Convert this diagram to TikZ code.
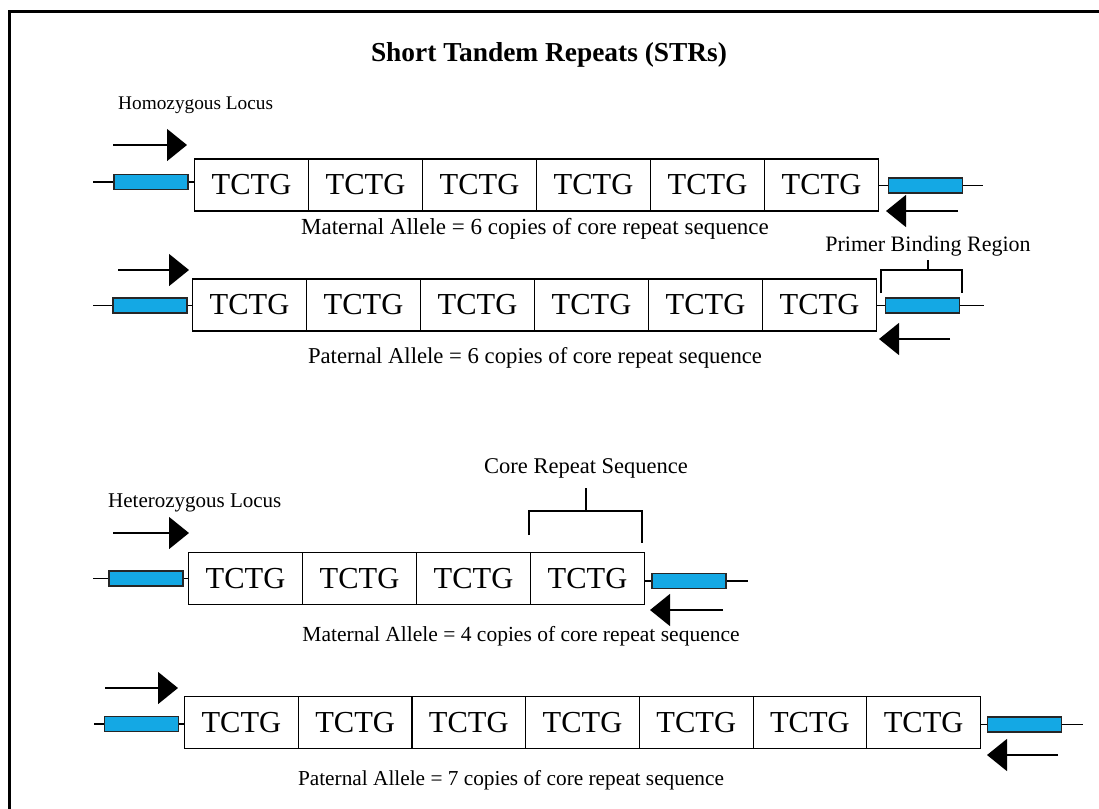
\documentclass[tikz,border=0pt]{standalone}
\usepackage{fontspec}
\setmainfont{Liberation Serif}
\usetikzlibrary{arrows.meta}
\definecolor{dnablue}{HTML}{14A8E4}
\tikzset{
  rep/.style={draw, line width=1.1pt, minimum height=52pt, inner sep=0pt, anchor=west, font=\fontsize{30.5}{30.5}\selectfont},
  flank/.style={draw=black!85, line width=1.1pt, fill=dnablue, minimum width=74pt, minimum height=15pt, inner sep=0pt},
  strand/.style={line width=1.1pt},
  primer/.style={line width=1.4pt, -{Triangle[length=20pt,width=32pt]}},
  lbl/.style={font=\fontsize{21}{21}\selectfont, inner sep=0pt},
  brk/.style={line width=1.1pt}
}
\begin{document}
\begin{tikzpicture}[x=1pt,y=-1pt]
\useasboundingbox (0,0) rectangle (1099,808);
\draw[line width=3pt] (1120,12) -- (9,12) -- (9,830);
\node[font=\fontsize{27.4}{27.4}\selectfont\bfseries] (title) at (549,55) {Short Tandem Repeats (STRs)};

% ---------- Row 1 ----------
\node[lbl, anchor=west, font=\fontsize{19.3}{19.3}\selectfont] (homo) at (118,105) {Homozygous Locus};
\foreach \i in {0,...,5} {\node[rep, minimum width=114pt] (r1b\i) at (194+114*\i,185) {TCTG};}
\node[flank] (r1L) at (151,182) {};
\node[flank] (r1R) at (925.5,185.5) {};
\coordinate (r1l0) at (93,182); \coordinate (r1r0) at (983,185.5);
\draw[strand] (r1l0) -- (r1L.west); \draw[strand] (r1L.east) -- (r1L.east -| r1b0.west);
\draw[strand] (r1R.west -| r1b5.east) -- (r1R.west); \draw[strand] (r1R.east) -- (r1r0);
\coordinate (r1fs) at (113,145); \coordinate (r1fe) at (187,145);
\coordinate (r1rs) at (958,211); \coordinate (r1re) at (886,211);
\draw[primer] (r1fs) -- (r1fe); \draw[primer] (r1rs) -- (r1re);
\node[lbl, font=\fontsize{23}{23}\selectfont] (mat1) at (535,229) {Maternal Allele = 6 copies of core repeat sequence};

% ---------- Row 2 ----------
\foreach \i in {0,...,5} {\node[rep, minimum width=114pt] (r2b\i) at (192+114*\i,305) {TCTG};}
\node[flank] (r2L) at (150,305.5) {};
\node[flank] (r2R) at (922.5,305.5) {};
\coordinate (r2l0) at (93,305.5); \coordinate (r2r0) at (984,305.5);
\draw[strand] (r2l0) -- (r2L.west); \draw[strand] (r2L.east) -- (r2L.east -| r2b0.west);
\draw[strand] (r2R.west -| r2b5.east) -- (r2R.west); \draw[strand] (r2R.east) -- (r2r0);
\coordinate (r2fs) at (118,270); \coordinate (r2fe) at (189,270);
\coordinate (r2rs) at (950,339); \coordinate (r2re) at (879,339);
\draw[primer] (r2fs) -- (r2fe); \draw[primer] (r2rs) -- (r2re);
\node[lbl, font=\fontsize{22}{22}\selectfont] (pbr) at (928,246) {Primer Binding Region};
\coordinate (pb1) at (881,293); \coordinate (pb2) at (962,293);
\draw[brk] (pb1) |- (pbr.south |- 0,270) -| (pb2);
\draw[brk] (pbr.south) ++(0,4) -- (pbr.south |- 0,270);
\node[lbl, font=\fontsize{22.7}{22.7}\selectfont] (pat1) at (535,358) {Paternal Allele = 6 copies of core repeat sequence};

% ---------- Row 3 ----------
\node[lbl, anchor=west] (hetero) at (108,503) {Heterozygous Locus};
\foreach \i in {0,...,3} {\node[rep, minimum width=114pt] (r3b\i) at (188+114*\i,578.5) {TCTG};}
\node[flank] (r3L) at (146,578.5) {};
\node[flank] (r3R) at (689,581) {};
\coordinate (r3l0) at (93,578.5); \coordinate (r3r0) at (748,581);
\draw[strand] (r3l0) -- (r3L.west); \draw[strand] (r3L.east) -- (r3L.east -| r3b0.west);
\draw[strand] (r3R.west -| r3b3.east) -- (r3R.west); \draw[strand] (r3R.east) -- (r3r0);
\coordinate (r3fs) at (113,533); \coordinate (r3fe) at (189,533);
\coordinate (r3rs) at (723,610); \coordinate (r3re) at (650,610);
\draw[primer] (r3fs) -- (r3fe); \draw[primer] (r3rs) -- (r3re);
\node[lbl, font=\fontsize{22.5}{22.5}\selectfont] (crs) at (586,468) {Core Repeat Sequence};
\coordinate (cb1) at (529,535); \coordinate (cb2) at (642,543);
\draw[brk] (cb1) |- (crs.south |- 0,511) -| (cb2);
\draw[brk] (crs.south) ++(0,10) -- (crs.south |- 0,511);
\node[lbl, font=\fontsize{21.5}{21.5}\selectfont] (mat2) at (521,636) {Maternal Allele = 4 copies of core repeat sequence};

% ---------- Row 4 ----------
\foreach \i in {0,...,6} {\node[rep, minimum width=113.7pt] (r4b\i) at (184+113.7*\i,722.5) {TCTG};}
\node[flank] (r4L) at (141.5,724) {};
\node[flank] (r4R) at (1024.5,724.5) {};
\coordinate (r4l0) at (94,724); \coordinate (r4r0) at (1083,724.5);
\draw[strand] (r4l0) -- (r4L.west); \draw[strand] (r4L.east) -- (r4L.east -| r4b0.west);
\draw[strand] (r4R.west -| r4b6.east) -- (r4R.west); \draw[strand] (r4R.east) -- (r4r0);
\coordinate (r4fs) at (105,688); \coordinate (r4fe) at (178,688);
\coordinate (r4rs) at (1058,755); \coordinate (r4re) at (987,755);
\draw[primer] (r4fs) -- (r4fe); \draw[primer] (r4rs) -- (r4re);
\node[lbl, font=\fontsize{21.3}{21.3}\selectfont] (pat2) at (511,780) {Paternal Allele = 7 copies of core repeat sequence};
\end{tikzpicture}
\end{document}
